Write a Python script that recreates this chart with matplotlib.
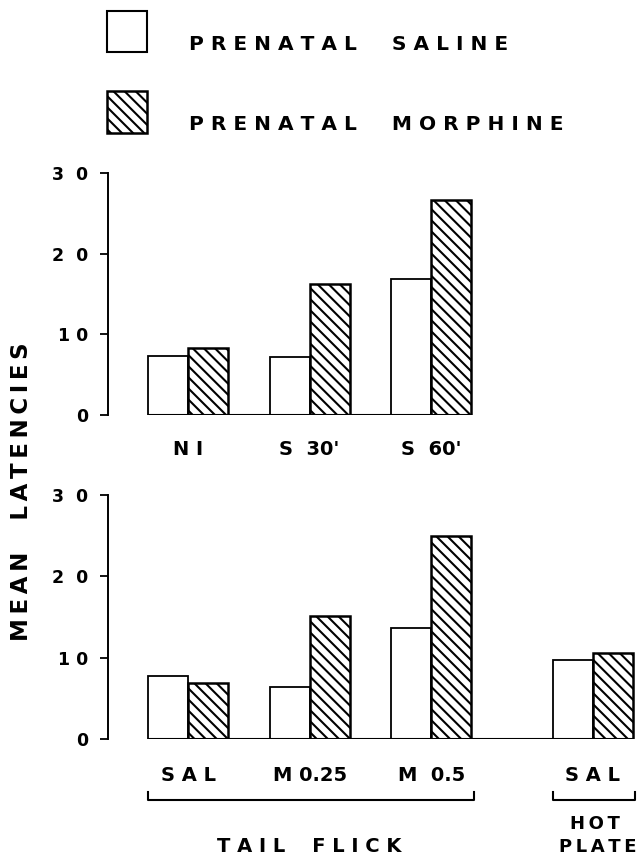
import matplotlib
matplotlib.use("Agg")
import matplotlib.pyplot as plt
from matplotlib.patches import Rectangle

# ---- data ----
top_labels = ["N I", "S  30'", "S  60'"]
top_saline = [7.3, 7.2, 16.9]
top_morphine = [8.3, 16.2, 26.6]

bottom_labels = ["S A L", "M 0.25", "M  0.5", "S A L"]
bottom_saline = [7.8, 6.4, 13.7, 9.8]
bottom_morphine = [6.9, 15.1, 25.0, 10.6]

yticks = [0, 10, 20, 30]
ytick_labels = ["0", "1 0", "2  0", "3  0"]

# ---- layout ----
top_pos = [0, 1, 2]
bottom_pos = [0, 1, 2, 3.33]
w = 0.33
xlim = (-0.66, 3.70)
HATCH = '\\\\\\'
TS = '\u2009'  # thin space for letter spacing

plt.rcParams['font.family'] = ['DejaVu Sans']
plt.rcParams['font.weight'] = 'bold'
plt.rcParams['hatch.linewidth'] = 1.5

fig = plt.figure(figsize=(6.39, 8.65), dpi=100)
ax1 = fig.add_axes([0.169, 0.5202, 0.829, 0.2801])
ax2 = fig.add_axes([0.169, 0.1453, 0.829, 0.2824])


def draw_panel(ax, pos, sal, mor, labels, pad):
    ax.bar([p - w / 2 for p in pos], sal, width=w, color='white',
           edgecolor='black', linewidth=1.3)
    ax.bar([p + w / 2 for p in pos], mor, width=w, color='white',
           edgecolor='black', linewidth=1.8, hatch=HATCH)
    ax.hlines(0, pos[0] - w, pos[-1] + w, color='black', linewidth=1.5)
    ax.set_xlim(*xlim)
    ax.set_ylim(0, 30)
    for s in ['top', 'right', 'bottom']:
        ax.spines[s].set_visible(False)
    ax.spines['left'].set_linewidth(1.4)
    ax.set_yticks(yticks)
    ax.set_yticklabels(ytick_labels, fontsize=12.5, fontweight='bold')
    ax.tick_params(axis='y', length=6, width=1.3, pad=8)
    ax.set_xticks(pos)
    ax.set_xticklabels(labels, fontsize=14, fontweight='bold')
    ax.tick_params(axis='x', length=0, pad=pad)


draw_panel(ax1, top_pos, top_saline, top_morphine, top_labels, 18)
draw_panel(ax2, bottom_pos, bottom_saline, bottom_morphine, bottom_labels, 19)

# brackets under the bottom panel
def bracket(ax, x0, x1, y0=-7.45, y1=-6.5):
    ax.plot([x0, x0, x1, x1], [y1, y0, y0, y1], color='black',
            linewidth=1.5, clip_on=False)

bracket(ax2, bottom_pos[0] - w, bottom_pos[2] + w + 0.02)
bracket(ax2, bottom_pos[3] - w, bottom_pos[3] + w + 0.02)

ax2.text((bottom_pos[0] - w + bottom_pos[2] + w) / 2, -13.2, "T A I L    F L I C K",
         ha='center', va='center', fontsize=14, fontweight='bold', clip_on=False)
ax2.text(bottom_pos[3] + 0.02, -10.4, TS.join("HOT"), ha='center', va='center',
         fontsize=13, fontweight='bold', clip_on=False)
ax2.text(bottom_pos[3] + 0.04, -13.2, TS.join("PLATE"), ha='center', va='center',
         fontsize=13, fontweight='bold', clip_on=False)

# y label
fig.text(0.034, 1 - 492 / 865, TS.join("MEAN") + "    " + TS.join("LATENCIES"),
         rotation=90, ha='center', va='center', fontsize=16.5, fontweight='bold')

# legend
fig.patches.append(Rectangle((0.1674, 0.9399), 0.0626, 0.0474, transform=fig.transFigure,
                             facecolor='white', edgecolor='black', linewidth=1.5))
fig.patches.append(Rectangle((0.1674, 0.8462), 0.0626, 0.0486, transform=fig.transFigure,
                             facecolor='white', edgecolor='black', linewidth=1.8,
                             hatch=HATCH))
fig.text(0.2958, 1 - 44 / 865, "P R E N A T A L     S A L I N E", ha='left',
         va='center', fontsize=14.5, fontweight='bold')
fig.text(0.2958, 1 - 124 / 865, "P R E N A T A L     M O R P H I N E", ha='left',
         va='center', fontsize=14.5, fontweight='bold')

fig.savefig("out.png", dpi=100)
